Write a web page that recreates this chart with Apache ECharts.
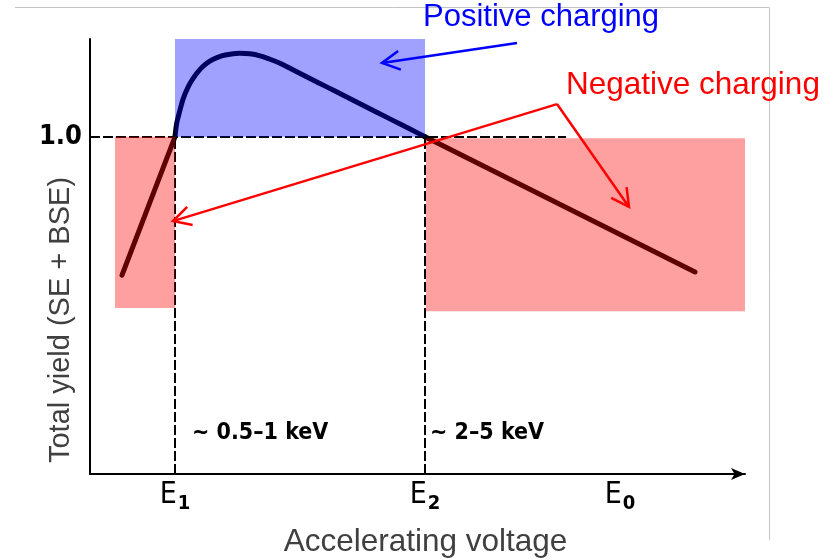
<!DOCTYPE html>
<html><head><meta charset="utf-8">
<script src="https://cdn.jsdelivr.net/npm/echarts@6/dist/echarts.min.js"></script>
<style>html,body{margin:0;padding:0;background:#fff}#c{width:838px;height:560px}</style>
</head><body><div id="c"></div>
<script>
// ---- data (arbitrary units: x = accelerating voltage, y = total yield) ----
const curveLeftX = [0.64, 1.7];
const curveLeftY = [0.59, 1.0];
const curveX = [1.7, 1.734, 1.8, 1.866, 1.966, 2.066, 2.2, 2.334, 2.466, 2.634, 2.8, 3.0, 3.2, 3.4, 3.6, 3.8, 4.066, 4.4, 4.734, 5.066, 5.4, 5.734, 6.066, 6.4, 6.7];
const curveY = [1.0, 1.040, 1.079, 1.114, 1.149, 1.174, 1.200, 1.218, 1.230, 1.240, 1.245, 1.248, 1.246, 1.240, 1.230, 1.218, 1.198, 1.173, 1.148, 1.123, 1.098, 1.073, 1.048, 1.023, 1.0];
const curveRightX = [6.7, 12.1];
const curveRightY = [1.0, 0.599];
const xTickValues = [1.7, 6.7, 10.6];
const xTickSubs = ['1', '2', '0'];
const yTickValues = [1.0];
const yTickLabels = ['1.0'];
const refLineY = 1.0;
const refLineXEnd = 9.52;
const vRefX = [1.7, 6.7];
const positiveZone = { x: [1.7, 6.7], y: [1.0, 1.302] };
const negativeZones = [{ x: [0.5, 1.7], y: [0.492, 1.0] }, { x: [6.72, 13.12], y: [0.483, 0.996] }];
const bandLabels = ['~ 0.5–1 keV', '~ 2–5 keV'];
const bandLabelPos = [[2.04, 0.122], [6.8, 0.122]];
const blueArrows = [[[8.54, 1.278], [5.84, 1.219]]];
const redArrows = [[[9.34, 1.097], [1.66, 0.750]], [[9.34, 1.097], [10.78, 0.792]]];
const xMax = 13.1, yMax = 1.29;

const NARROW = '"Liberation Sans Narrow","DejaVu Sans Condensed","Arial Narrow",sans-serif';
const SANS = '"Liberation Sans",Arial,Helvetica,sans-serif';

const chart = echarts.init(document.getElementById('c'), null, { renderer: 'canvas' });

const curveLine = { color: '#000', width: 5, cap: 'round', join: 'round' };

const option = {
  animation: false,
  backgroundColor: '#ffffff',
  grid: { left: 90, right: 93, top: 39, bottom: 86, containLabel: false, outerBoundsMode: 'none' },
  xAxis: {
    type: 'value', min: 0, max: xMax,
    axisLine: { show: true, symbol: ['none', 'arrow'], symbolSize: [9, 14], lineStyle: { color: '#000', width: 2 } },
    axisTick: { show: false },
    splitLine: { show: false },
    axisLabel: {
      customValues: xTickValues,
      margin: 6,
      formatter: function (v) {
        const i = xTickValues.findIndex(t => Math.abs(t - v) < 1e-6);
        return i < 0 ? '' : '{e|E}{s|' + xTickSubs[i] + '}';
      },
      rich: {
        e: { fontFamily: NARROW, fontSize: 30, color: '#000', verticalAlign: 'top' },
        s: { fontFamily: NARROW, fontSize: 20, color: '#000', fontWeight: 'bold', verticalAlign: 'top', padding: [14, 0, 0, 1] }
      }
    }
  },
  yAxis: {
    type: 'value', min: 0, max: yMax,
    axisLine: { show: true, lineStyle: { color: '#000', width: 2 } },
    axisTick: { show: false },
    splitLine: { show: false },
    axisLabel: {
      customValues: yTickValues,
      margin: 8,
      fontFamily: NARROW, fontWeight: 'bold', fontSize: 27, color: '#000',
      formatter: function (v) {
        const i = yTickValues.findIndex(t => Math.abs(t - v) < 1e-6);
        return i < 0 ? '' : yTickLabels[i];
      }
    }
  },
  series: [
    {
      type: 'line', name: 'left', z: 2, symbol: 'none', clip: false,
      data: curveLeftX.map((x, i) => [x, curveLeftY[i]]),
      lineStyle: curveLine
    },
    {
      type: 'line', name: 'curve', z: 2, symbol: 'none', smooth: 0.3, clip: false,
      data: curveX.map((x, i) => [x, curveY[i]]),
      lineStyle: curveLine,
      markLine: {
        silent: true, z: 2, symbol: ['none', 'none'], label: { show: false },
        lineStyle: { color: '#000', width: 2, type: [10, 3] },
        data: [
          [{ coord: [0, refLineY] }, { coord: [refLineXEnd, refLineY] }],
          ...vRefX.map(x => [{ coord: [x, 0] }, { coord: [x, refLineY] }])
        ]
      }
    },
    {
      type: 'line', name: 'right', z: 2, symbol: 'none', clip: false,
      data: curveRightX.map((x, i) => [x, curveRightY[i]]),
      lineStyle: curveLine
    },
    {
      type: 'line', name: 'zones', z: 6, symbol: 'none', clip: false, data: [],
      markArea: {
        silent: true, z: 6,
        data: [
          [{ coord: [positiveZone.x[0], positiveZone.y[0]], itemStyle: { color: 'rgba(0,0,255,0.373)' } },
           { coord: [positiveZone.x[1], positiveZone.y[1]] }],
          ...negativeZones.map(z => [
            { coord: [z.x[0], z.y[0]], itemStyle: { color: 'rgba(255,0,0,0.373)' } },
            { coord: [z.x[1], z.y[1]] }
          ])
        ]
      }
    }
  ]
};
chart.setOption(option);

function px(p) { return chart.convertToPixel({ gridIndex: 0 }, p); }

function arrowEls(a, color) {
  const p0 = px(a[0]), p1 = px(a[1]);
  const dx = p0[0] - p1[0], dy = p0[1] - p1[1];
  const len = Math.hypot(dx, dy);
  const ux = dx / len, uy = dy / len;
  const L = 20, th = 28 * Math.PI / 180;
  const c = Math.cos(th), s = Math.sin(th);
  const b1 = [p1[0] + L * (ux * c - uy * s), p1[1] + L * (ux * s + uy * c)];
  const b2 = [p1[0] + L * (ux * c + uy * s), p1[1] + L * (-ux * s + uy * c)];
  return [
    { type: 'line', z: 100, shape: { x1: p0[0], y1: p0[1], x2: p1[0], y2: p1[1] }, style: { stroke: color, lineWidth: 2.5 } },
    { type: 'polyline', z: 100, shape: { points: [b1, p1, b2] }, style: { stroke: color, lineWidth: 2.5, fill: null } }
  ];
}

const graphics = [];
// slide frame lines
graphics.push({ type: 'line', z: 1, shape: { x1: 15, y1: 7.5, x2: 769.5, y2: 7.5 }, style: { stroke: '#c4c4c4', lineWidth: 1 } });
graphics.push({ type: 'line', z: 1, shape: { x1: 769.5, y1: 7.5, x2: 769.5, y2: 540 }, style: { stroke: '#c4c4c4', lineWidth: 1 } });
blueArrows.forEach(a => graphics.push(...arrowEls(a, '#0000ff')));
redArrows.forEach(a => graphics.push(...arrowEls(a, '#ff0000')));
bandLabels.forEach((t, i) => {
  const p = px(bandLabelPos[i]);
  graphics.push({ type: 'text', z: 100, x: p[0], y: p[1],
    style: { text: t, fill: '#000', font: 'bold 23px ' + NARROW, textAlign: 'left', textVerticalAlign: 'middle' } });
});
graphics.push({ type: 'text', z: 100, x: 423, y: 17,
  style: { text: 'Positive charging', fill: '#0000ff', font: '31px ' + SANS, textAlign: 'left', textVerticalAlign: 'middle' } });
graphics.push({ type: 'text', z: 100, x: 566, y: 85,
  style: { text: 'Negative charging', fill: '#ff0000', font: '31.5px ' + SANS, textAlign: 'left', textVerticalAlign: 'middle' } });
graphics.push({ type: 'text', z: 100, x: 425.5, y: 542,
  style: { text: 'Accelerating voltage', fill: '#404040', font: '31.5px ' + SANS, textAlign: 'center', textVerticalAlign: 'middle' } });
graphics.push({ type: 'text', z: 100, x: 61, y: 320, rotation: Math.PI / 2,
  style: { text: 'Total yield (SE + BSE)', fill: '#404040', font: '29px ' + SANS, textAlign: 'center', textVerticalAlign: 'middle' } });

chart.setOption({ graphic: { elements: graphics } });
</script>
</body></html>
